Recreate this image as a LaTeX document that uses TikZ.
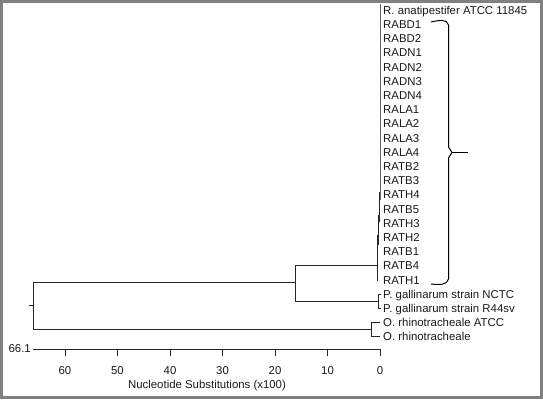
\documentclass[tikz,border=0pt]{standalone}
\usepackage{fontspec}
\setmainfont{Liberation Sans}
\begin{document}
\begin{tikzpicture}[x=1pt,y=-1pt,
  lbl/.style={anchor=base west,inner sep=0pt,font=\fontsize{11.4}{12}\selectfont,text=black!90},
  ticklbl/.style={anchor=base,inner sep=0pt,font=\fontsize{11.4}{12}\selectfont,text=black!90},
  tree/.style={line width=0.9pt,draw=black!85},
  bracestyle/.style={line width=1pt,draw=black,line join=round}]
\useasboundingbox (0,0) rectangle (543,399);
\draw[line width=3pt,draw=black!50] (1.5,1.5) rectangle (541.5,397.5);

% leaf labels
\foreach \t [count=\i from 0] in {R. anatipestifer ATCC 11845,RABD1,RABD2,RADN1,RADN2,RADN3,RADN4,RALA1,RALA2,RALA3,RALA4,RATB2,RATB3,RATH4,RATB5,RATH3,RATH2,RATB1,RATB4,RATH1,P. gallinarum strain NCTC,P. gallinarum strain R44sv,O. rhinotracheale ATCC,O. rhinotracheale}
  \node[lbl] (L\i) at (383,{14.2+14.2*\i}) {\t};

% tree coordinates
\coordinate (root) at (33,282);
\coordinate (rootb) at (33,329.6);
\coordinate (stub) at (29,305.5);
\coordinate (rootm) at (33,305.5);
\coordinate (nA) at (295,282);
\coordinate (nAt) at (295,265.6);
\coordinate (nAb) at (295,301);
\coordinate (ra) at (377,265.6);
\coordinate (pg) at (378,301);
\coordinate (pgt) at (378,294);
\coordinate (pgb) at (378,308.2);
\coordinate (pgtE) at (381,294);
\coordinate (pgbE) at (381,308.2);
\coordinate (or) at (371,329.6);
\coordinate (ort) at (371,322.6);
\coordinate (orb) at (371,336.6);
\coordinate (ortE) at (380,322.6);
\coordinate (orbE) at (380,336.6);

\draw[tree] (root) -- (rootb);
\draw[tree] (stub) -- (rootm);
\draw[tree] (root) -- (nA);
\draw[tree] (nAt) -- (nAb);
\draw[tree] (nAt) -- (ra);
\draw[tree] (nAb) -- (pg);
\draw[tree] (pgtE) -- (pgt) -- (pgb) -- (pgbE);
\draw[tree] (rootb) -- (or);
\draw[tree] (ortE) -- (ort) -- (orb) -- (orbE);

% R. anatipestifer cluster (near-zero distances)
\coordinate (c1t) at (380,4);   \coordinate (c1b) at (380,200);
\coordinate (c2t) at (379,192); \coordinate (c2b) at (379,222);
\coordinate (c3t) at (378,215); \coordinate (c3b) at (378,245);
\coordinate (c4t) at (377,235); \coordinate (c4b) at (377,281);
\draw[line width=0.7pt,draw=black!60] (c1t) -- (c1b);
\draw[tree] (c2t) -- (c2b);
\draw[tree] (c3t) -- (c3b);
\draw[tree] (c4t) -- (c4b);

% brace
\coordinate (bt) at (431,22);
\coordinate (bb) at (431,284);
\coordinate (btip) at (468,152.5);
\coordinate (bmid) at (452,152.5);
\draw[bracestyle] (bt) .. controls (440,20) and (447,19) .. (448.5,25) -- (448.5,147) -- (bmid) -- (448.5,158) -- (448.5,279) .. controls (447,285) and (440,285) .. (bb);
\draw[bracestyle] (bmid) -- (btip);

% axis
\coordinate (ax0) at (33,349);
\coordinate (ax1) at (380,349);
\draw[tree] (ax0) -- (ax1);
\foreach \v in {0,10,...,60} {
  \coordinate (tk\v) at ({380-5.25*\v},349);
  \coordinate (tkb\v) at ({380-5.25*\v},356);
  \draw[tree] (tk\v) -- (tkb\v);
  \node[ticklbl] (tl\v) at ({380-5.25*\v},374.2) {\v};
}
\node[lbl,anchor=base east] (rootval) at (31,352) {66.1};
\node[ticklbl] (axtitle) at (207,388) {Nucleotide Substitutions (x100)};
\end{tikzpicture}
\end{document}
